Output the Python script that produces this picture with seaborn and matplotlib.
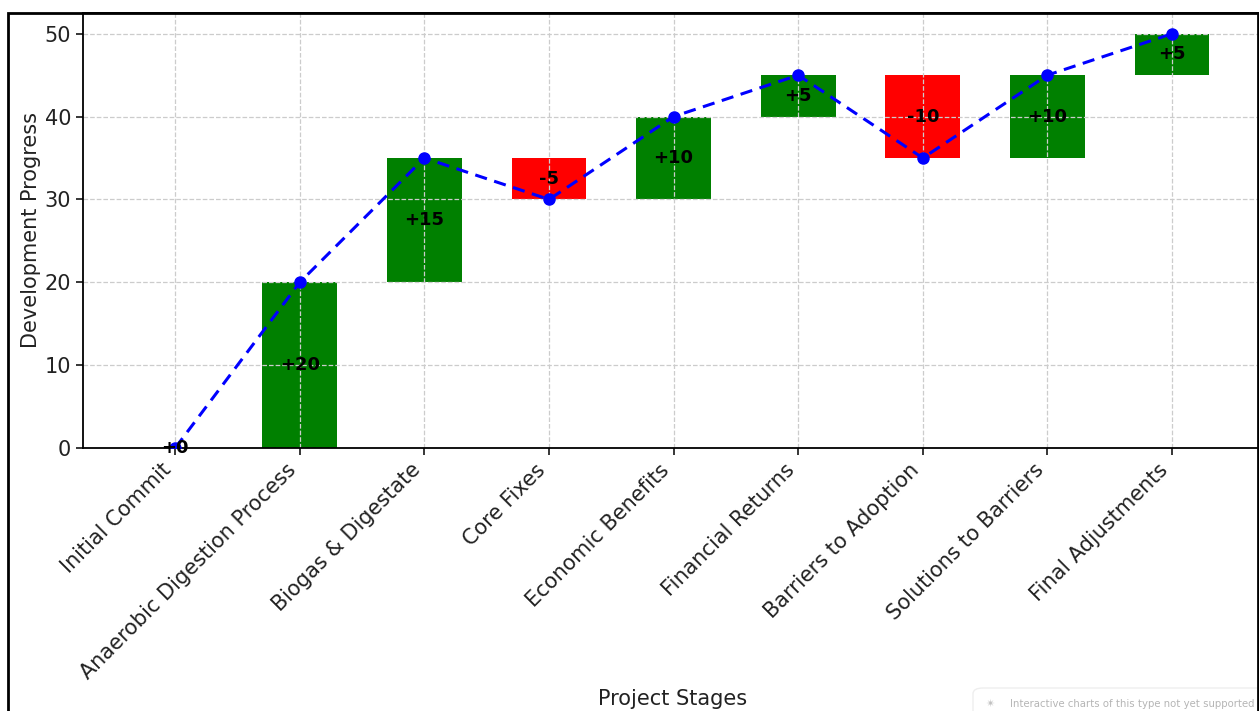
import numpy as np
import pandas as pd
import matplotlib
matplotlib.use("Agg")
import matplotlib.pyplot as plt
from matplotlib.patches import Rectangle, FancyBboxPatch
import seaborn as sns

# Waterfall data: stage names and the change each stage contributes
stages = [
    "Initial Commit",
    "Anaerobic Digestion Process",
    "Biogas & Digestate",
    "Core Fixes",
    "Economic Benefits",
    "Financial Returns",
    "Barriers to Adoption",
    "Solutions to Barriers",
    "Final Adjustments",
]
changes = [0, 20, 15, -5, 10, 5, -10, 10, 5]

cumulative = list(np.cumsum(changes))
starts = [c - d for c, d in zip(cumulative, changes)]

df = pd.DataFrame({
    "stage": stages,
    "change": changes,
    "start": starts,
    "end": cumulative,
})
df["low"] = df[["start", "end"]].min(axis=1)
df["size"] = df["change"].abs()
df["color"] = np.where(df["change"] >= 0, "green", "red")

sns.set_style("ticks")
plt.rcParams["font.family"] = ["DejaVu Sans"]

fig = plt.figure(figsize=(12.59, 7.11), dpi=100)
W, H = 1259, 711
ax = fig.add_axes([83 / W, 1 - 448 / H, (1263 - 83) / W, (448 - 13) / H])

# one floating bar per stage, on a shared categorical axis
for _, row in df.iterrows():
    sns.barplot(
        x=[row["stage"]], y=[row["size"]], order=stages,
        bottom=row["low"], color=row["color"], width=0.6,
        saturation=1, linewidth=0, edgecolor="none", ax=ax, zorder=1,
    )

# running total
pos = np.arange(len(stages))
ax.plot(pos, df["end"], linestyle="--", marker="o", color="blue",
        linewidth=2.2, markersize=8, dashes=(4, 2.5), zorder=3)

# change labels at bar centres
for i, row in df.iterrows():
    ax.text(i, row["start"] + row["change"] / 2, f"{row['change']:+d}",
            ha="center", va="center", fontsize=13, fontweight="bold",
            color="black", zorder=4)

ax.set_xlim(-0.74, 8.73)
ax.set_ylim(0, 52.5)
ax.set_yticks([0, 10, 20, 30, 40, 50])
ax.set_axisbelow("line")
ax.grid(True, linestyle="--", color="#cccccc", linewidth=0.9)

ax.set_xticks(pos)
ax.set_xticklabels(stages, rotation=45, ha="right", fontsize=15, color="#222222")
ax.tick_params(axis="y", labelsize=15, labelcolor="#222222")
ax.tick_params(axis="both", direction="out", length=5, width=1.1, color="black")
ax.set_xlabel("Project Stages", fontsize=15, color="#222222")
ax.set_ylabel("Development Progress", fontsize=15, color="#222222")
ax.xaxis.set_label_coords((673 - 83) / (1263 - 83), (448 - 689) / (448 - 13))
ax.yaxis.set_label_coords((41 - 83) / (1263 - 83), 0.5)

for s in ax.spines.values():
    s.set_visible(True)
    s.set_linewidth(1.3)
    s.set_color("black")

# outer frame
fig.patches.append(Rectangle((8 / W, -0.05), (1258 - 8) / W, 1 - 13 / H + 0.05,
                             transform=fig.transFigure, fill=False,
                             edgecolor="black", linewidth=2, zorder=10))

# notice box at the lower right
fig.patches.append(FancyBboxPatch((973 / W, -0.02), 300 / W, (711 - 688) / H + 0.02,
                                  boxstyle="round,pad=0,rounding_size=0.008",
                                  transform=fig.transFigure, facecolor="white",
                                  edgecolor="#eeeeee", linewidth=1, zorder=9))
fig.text(1010 / W, 1 - 704 / H, "Interactive charts of this type not yet supported",
         fontsize=7.3, color="#b5b5b5", va="center", ha="left", zorder=11)
fig.text(986 / W, 1 - 704 / H, "\u2734", fontsize=8, color="#c0c0c0",
         va="center", ha="left", zorder=11)

fig.savefig("out.png", dpi=100)
